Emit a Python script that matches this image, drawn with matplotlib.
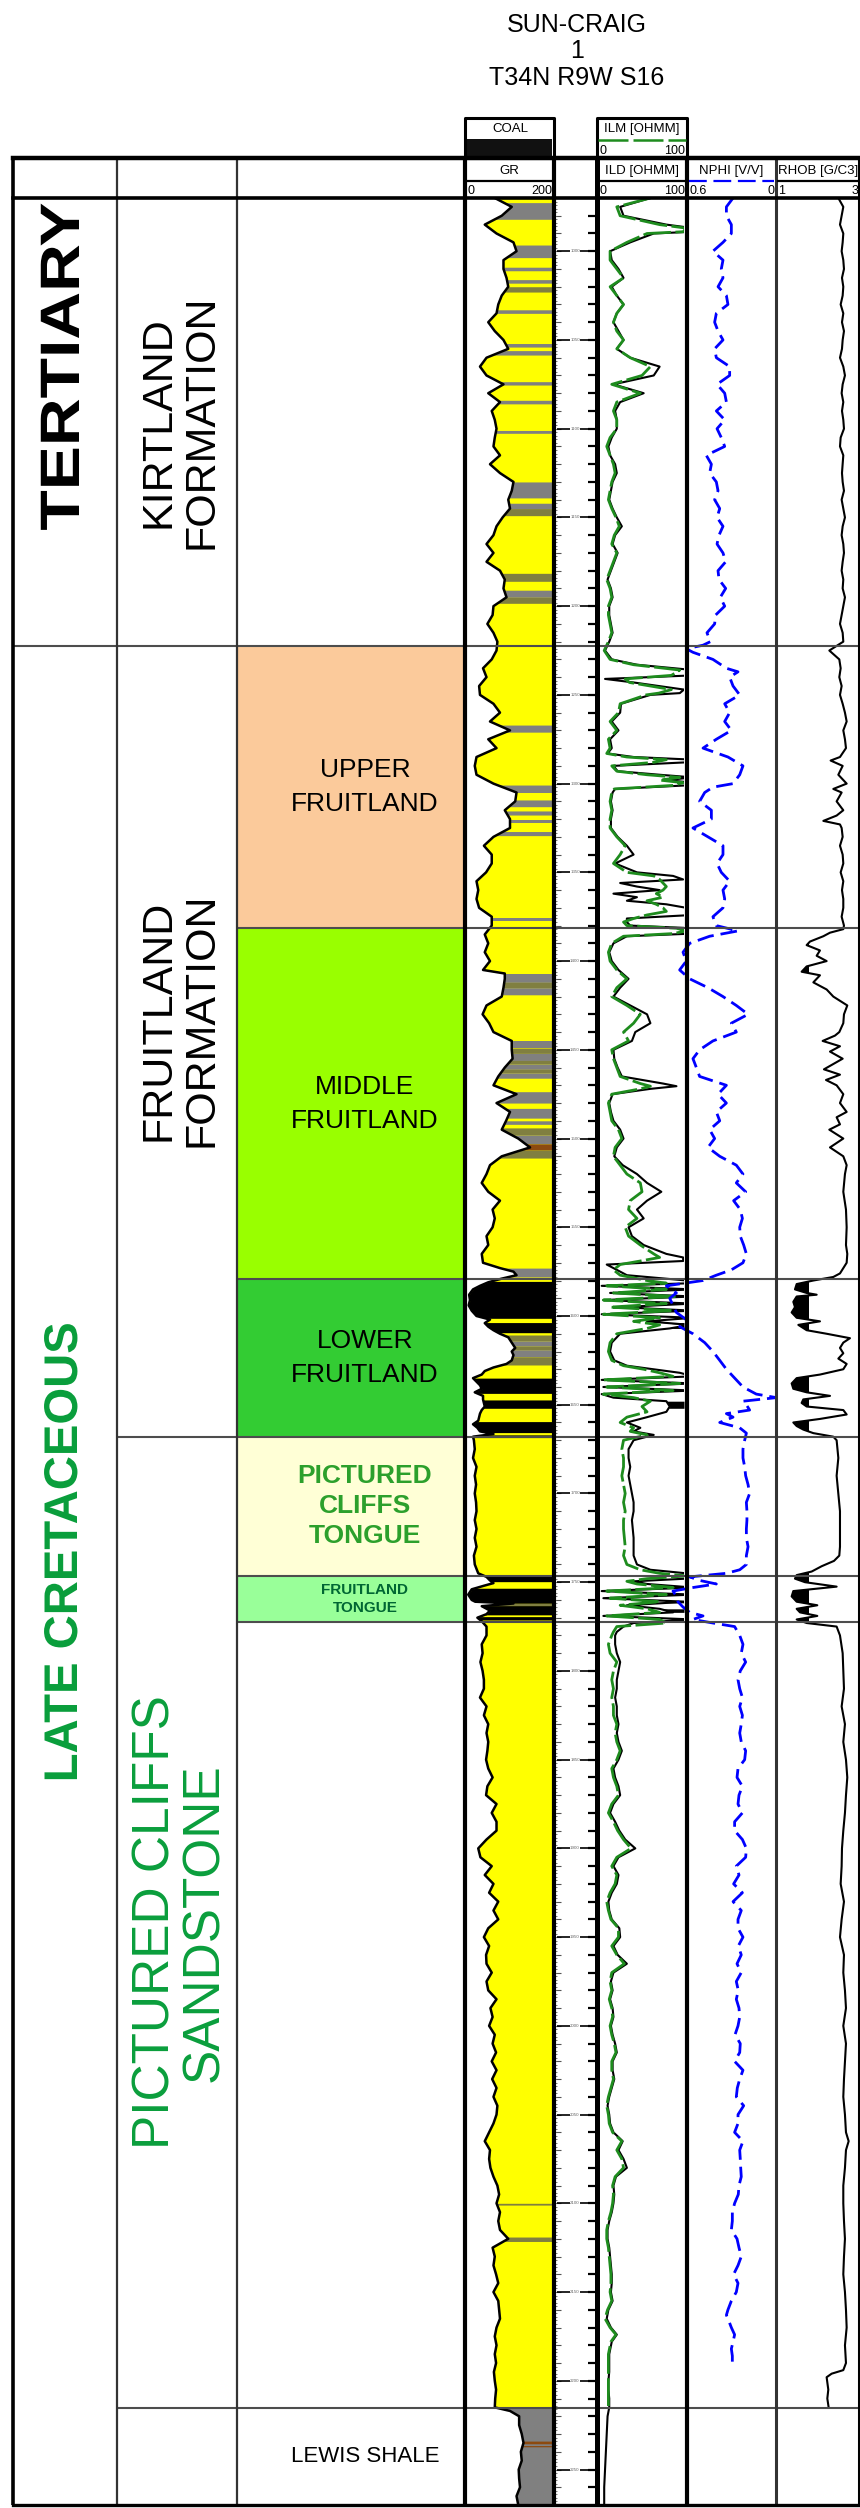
import matplotlib.pyplot as plt
import numpy as np
from matplotlib.patheffects import AbstractPathEffect
from matplotlib.transforms import Affine2D

plt.rcParams['font.family'] = ['Liberation Sans', 'DejaVu Sans']

WELL = ['SUN-CRAIG', '1', 'T34N R9W S16']

# log window in feet
TOP_DEPTH, BASE_DEPTH = 970, 2270

ERA_NAMES = ['TERTIARY', 'LATE CRETACEOUS']
ERA_TOPS = [970, 1222.3]
FM_NAMES = ['KIRTLAND\nFORMATION', 'FRUITLAND\nFORMATION', 'PICTURED CLIFFS\nSANDSTONE', '']
FM_TOPS = [970, 1222.3, 1668.0, 2215.5]
UNIT_NAMES = ['', 'UPPER\nFRUITLAND', 'MIDDLE\nFRUITLAND', 'LOWER\nFRUITLAND',
              'PICTURED\nCLIFFS\nTONGUE', 'FRUITLAND\nTONGUE', '', 'LEWIS SHALE']
UNIT_TOPS = [970, 1222.3, 1381.5, 1579.3, 1668.0, 1746.3, 1772.6, 2215.5]
UNIT_COLORS = ['white', '#FBCA9B', '#99FF00', '#33CC33', '#FFFFD6', '#99FF99', 'white', 'white']

# gamma ray (depth ft, GAPI)
GR_LOG = [
    (970, 65), (975, 104), (980, 81), (985, 42), (990, 69), (995, 108), (1000, 115), (1005, 85),
    (1010, 85), (1015, 92), (1020, 96), (1025, 81), (1030, 73), (1035, 69), (1040, 50), (1045, 65),
    (1050, 85), (1055, 96), (1060, 46), (1065, 31), (1070, 46), (1075, 85), (1080, 50), (1085, 77),
    (1090, 58), (1095, 65), (1100, 69), (1105, 65), (1110, 62), (1115, 77), (1120, 54), (1125, 77),
    (1130, 108), (1135, 104), (1140, 96), (1145, 100), (1150, 83), (1155, 69), (1160, 62), (1165, 46),
    (1170, 62), (1175, 46), (1180, 77), (1185, 88), (1190, 85), (1195, 92), (1200, 62), (1205, 60),
    (1210, 48), (1215, 62), (1220, 71), (1225, 69), (1230, 58), (1235, 38), (1240, 46), (1245, 29),
    (1250, 31), (1255, 62), (1260, 77), (1265, 54), (1270, 100), (1275, 50),
    (1280, 69), (1285, 23), (1290, 19), (1295, 23), (1300, 62), (1305, 115), (1310, 112), (1315, 88),
    (1320, 100), (1325, 100), (1330, 62), (1335, 40), (1340, 58), (1345, 58), (1350, 45), (1355, 23),
    (1360, 27), (1365, 23), (1370, 29), (1375, 58), (1380, 58), (1385, 42), (1390, 50), (1395, 42),
    (1400, 54), (1405, 38), (1407, 88), (1410, 88), (1415, 85), (1420, 81),
    (1425, 46), (1430, 37), (1435, 52), (1440, 62), (1445, 104), (1450, 104), (1455, 106), (1460, 88),
    (1465, 73), (1470, 62), (1475, 115), (1480, 69), (1485, 100), (1490, 91), (1495, 81), (1500, 119),
    (1505, 146), (1510, 81), (1515, 54), (1520, 46), (1525, 35), (1530, 50), (1535, 77), (1540, 60),
    (1545, 65), (1550, 60), (1555, 46), (1560, 50),
    (1565, 35), (1570, 38), (1573, 77), (1575, 108), (1577, 115), (1579, 80), (1581, 50), (1583, 31),
    (1585, 15), (1588, 6), (1591, 8), (1594, 5), (1597, 12), (1600, 23), (1602, 54), (1604, 42),
    (1606, 50), (1608, 62), (1610, 77), (1612, 96), (1615, 104), (1618, 112), (1620, 104), (1622, 108),
    (1625, 104), (1627, 92), (1629, 62), (1631, 42), (1633, 35), (1635, 15), (1637, 23), (1639, 31),
    (1641, 35), (1643, 19), (1645, 38), (1647, 38), (1649, 40), (1651, 42), (1653, 35), (1655, 31),
    (1657, 29), (1659, 27), (1661, 15), (1663, 25), (1665, 31), (1666.5, 62), (1668, 15), (1670, 17),
    (1675, 19), (1680, 15), (1685, 23), (1690, 19), (1695, 22), (1700, 19), (1705, 22), (1710, 23),
    (1715, 19), (1720, 23), (1725, 19), (1730, 23), (1735, 17), (1740, 19), (1745, 27), (1747, 46),
    (1749, 54), (1750.5, 62), (1752, 40), (1754, 12), (1757, 4), (1760, 12), (1761, 20), (1762, 108),
    (1763.5, 35), (1766, 54), (1768, 46), (1770, 25), (1772, 35), (1775, 46),
    (1780, 46), (1785, 35), (1790, 37), (1795, 32), (1800, 37), (1805, 40), (1810, 40), (1815, 31),
    (1820, 46), (1825, 40), (1830, 50), (1835, 46), (1840, 50), (1845, 48), (1850, 45), (1855, 50),
    (1860, 60), (1865, 48), (1870, 45),
    (1875, 69), (1880, 58), (1885, 69), (1890, 69), (1895, 46), (1900, 27), (1905, 32), (1910, 58),
    (1915, 42), (1920, 62), (1925, 52), (1930, 73), (1935, 62), (1940, 73), (1945, 50), (1950, 40),
    (1955, 52), (1960, 45), (1965, 46), (1970, 58), (1975, 46), (1980, 50), (1985, 69), (1990, 55),
    (1995, 60), (2000, 52), (2005, 65), (2010, 60), (2015, 68),
    (2020, 58), (2025, 69), (2030, 59), (2035, 69), (2040, 62), (2045, 71), (2050, 69), (2055, 62),
    (2060, 52), (2065, 42), (2070, 54), (2075, 52), (2080, 55), (2085, 62), (2090, 71), (2095, 75),
    (2100, 69), (2105, 77), (2110, 73), (2115, 77), (2120, 96), (2125, 60), (2130, 65), (2135, 62),
    (2140, 68), (2145, 73), (2150, 62), (2155, 73),
    (2160, 75), (2165, 77), (2170, 69), (2175, 65), (2180, 69), (2185, 65), (2190, 68), (2195, 63),
    (2200, 65), (2205, 68), (2210, 66), (2215, 65), (2217, 100), (2220, 121), (2225, 121), (2230, 127),
    (2235, 131), (2240, 125), (2245, 127), (2250, 120), (2255, 121), (2260, 123), (2265, 115), (2270, 119),
]

# lithology beds behind the GR curve (top ft, base ft, kind); sand elsewhere
LITH_BEDS = [
    (972.6, 982, 'shale'), (996.5, 1003.6, 'shale'), (1009, 1011, 'shale'), (1016, 1018, 'shale'),
    (1020, 1023, 'shaly'), (1033, 1035, 'shale'), (1052, 1054, 'shale'), (1056, 1058.5, 'shale'),
    (1073.5, 1075.4, 'shale'), (1084, 1086, 'shale'), (1101, 1102.6, 'shale'),
    (1130, 1139, 'shale'), (1142, 1145, 'shale'), (1145, 1149, 'shaly'), (1181.5, 1186, 'shaly'),
    (1191, 1195, 'shale'), (1195, 1198.4, 'shaly'), (1267, 1271, 'shale'),
    (1300.8, 1305, 'shale'), (1309.2, 1313, 'shale'), (1315.4, 1317.7, 'shale'), (1320.5, 1322.4, 'shale'),
    (1327, 1329.3, 'shale'), (1375.5, 1377.4, 'shale'), (1407, 1412, 'shale'), (1412, 1415, 'shaly'),
    (1415, 1419, 'shale'),
    (1445, 1449, 'shale'), (1449, 1452, 'shaly'), (1452, 1456, 'shale'), (1456, 1458, 'shaly'),
    (1458, 1461, 'shale'), (1461, 1463, 'shaly'), (1463, 1466, 'shale'), (1473.6, 1480, 'shale'),
    (1483, 1488.5, 'shale'), (1490, 1492, 'shale'), (1494, 1498, 'shaly'), (1498, 1503, 'shale'),
    (1503, 1506.5, 'carb'), (1506.5, 1511, 'shaly'),
    (1573, 1578, 'shale'), (1580.5, 1601.3, 'coal'), (1603.7, 1609.4, 'coal'), (1610.7, 1614, 'shaly'),
    (1614, 1617, 'shale'), (1617, 1619, 'shaly'), (1619, 1623, 'shale'), (1623, 1627.6, 'shaly'),
    (1635, 1643.6, 'coal'), (1647.3, 1652, 'coal'), (1659.5, 1665.7, 'coal'), (1667, 1668.5, 'coal'),
    (1746.5, 1749.7, 'coal'), (1753.4, 1761.9, 'coal'), (1761.9, 1763.2, 'shaly'), (1763.2, 1768.4, 'coal'),
    (1769.4, 1771.3, 'coal'),
    (2100, 2101, 'shaly'), (2119, 2121.5, 'shaly'),
    (2215.5, 2270, 'shale'), (2234, 2235.5, 'carb'), (2236.5, 2237.2, 'carb'),
]

# induction logs (depth ft, ILM ohmm, ILD ohmm); ILM not run below the sandstone
RES_LOG = [
    (970, 60, 60), (975, 20, 24), (980, 24, 28), (985, 71, 79), (987, 103, 111), (989, 99, 111),
    (990, 56, 64), (995, 32, 36), (1000, 12, 12), (1005, 12, 14), (1010, 20, 22), (1015, 28, 28),
    (1020, 12, 14), (1025, 20, 20), (1030, 28, 28), (1035, 20, 20), (1040, 16, 16), (1045, 20, 22),
    (1050, 28, 28), (1055, 20, 20), (1060, 36, 36), (1065, 60, 71), (1070, 50, 64), (1075, 14, 16),
    (1080, 48, 52), (1085, 20, 24), (1090, 16, 18), (1095, 20, 20), (1100, 20, 20), (1105, 12, 14),
    (1110, 8, 10), (1115, 12, 12), (1120, 16, 18), (1125, 18, 20),
    (1130, 14, 15), (1135, 12, 13), (1140, 10, 11), (1145, 14, 15), (1150, 19, 20), (1155, 23, 26),
    (1160, 17, 18), (1165, 14, 15), (1170, 20, 21), (1175, 16, 17), (1180, 12, 13), (1185, 8, 9),
    (1190, 12, 13), (1195, 14, 15), (1200, 10, 11), (1205, 10, 11), (1210, 12, 13), (1215, 14, 15),
    (1220, 10, 11), (1225, 5, 6), (1230, 12, 14), (1233, 40, 44), (1236, 95, 111), (1239, 85, 111),
    (1241, 30, 6), (1243, 35, 40), (1245, 60, 70), (1247, 85, 100), (1249, 70, 95), (1250, 55, 60),
    (1255, 24, 25), (1260, 22, 24), (1265, 12, 14), (1270, 20, 22), (1275, 10, 12),
    (1280, 12, 14), (1283, 8, 9), (1285, 32, 40), (1286.5, 79, 111), (1288, 64, 103), (1290, 14, 16),
    (1293, 20, 21), (1295, 56, 71), (1296.5, 95, 111), (1298, 71, 79), (1299.5, 99, 111), (1301, 87, 103),
    (1303, 17, 18), (1305, 14, 15), (1310, 12, 13), (1315, 14, 15), (1320, 12, 13), (1325, 12, 13),
    (1330, 20, 21), (1335, 30, 32), (1340, 24, 40), (1345, 16, 18), (1350, 32, 44), (1352, 64, 87),
    (1354, 71, 99), (1356, 75, 24), (1358, 79, 44), (1360, 75, 71), (1362, 67, 16), (1364, 75, 44),
    (1366, 56, 32), (1368, 67, 79), (1370, 75, 103), (1372, 79, 111), (1374, 56, 111), (1376, 40, 32),
    (1378, 28, 32), (1380, 32, 36), (1381.5, 91, 111), (1383, 103, 111), (1384.5, 87, 111), (1386, 28, 32),
    (1390, 14, 16), (1395, 10, 11), (1400, 12, 14), (1405, 20, 22), (1410, 32, 34), (1415, 20, 24),
    (1420, 14, 16),
    (1425, 32, 36), (1430, 48, 56), (1435, 40, 60), (1440, 28, 42), (1445, 34, 38), (1450, 14, 16),
    (1455, 16, 17), (1460, 20, 21), (1465, 24, 26), (1469, 48, 75), (1470.5, 60, 91), (1472, 48, 60),
    (1475, 14, 15), (1480, 10, 11), (1485, 12, 13), (1490, 14, 16), (1495, 22, 24), (1500, 26, 28),
    (1505, 18, 20), (1510, 16, 17), (1515, 24, 27), (1520, 32, 44), (1525, 48, 56), (1530, 50, 73),
    (1535, 36, 56), (1540, 34, 44), (1545, 44, 52), (1550, 30, 34), (1555, 34, 38), (1560, 48, 52),
    (1565, 64, 79), (1567, 71, 99), (1569, 48, 99), (1571, 24, 8), (1574, 16, 20), (1577, 24, 32),
    (1580, 56, 103), (1581.5, 79, 111), (1583, 8, 2), (1585, 79, 111), (1587, 16, 12), (1589, 91, 111),
    (1591, 4, 4), (1593, 79, 111), (1595, 12, 24), (1597, 87, 111), (1599, 4, 2), (1601, 71, 111),
    (1603, 40, 56), (1605, 71, 107), (1607, 56, 83), (1610, 20, 24), (1615, 12, 14), (1620, 10, 12),
    (1625, 14, 17), (1628, 28, 32), (1630, 52, 64), (1632, 71, 95), (1634, 87, 111), (1636, 4, 2),
    (1638, 95, 111), (1640, 8, 4), (1642, 87, 111), (1644, 4, 2), (1646, 40, 16), (1648, 60, 79),
    (1651, 50, 83), (1654, 56, 79), (1657, 32, 56), (1660, 24, 32), (1663, 40, 48), (1665, 36, 40),
    (1667, 56, 64), (1670, 28, 40), (1675, 26, 34), (1680, 28, 34), (1685, 28, 36), (1690, 26, 34),
    (1695, 28, 36), (1700, 30, 38), (1705, 28, 40), (1710, 30, 40), (1715, 28, 38), (1720, 28, 39),
    (1725, 29, 40), (1730, 30, 40), (1735, 28, 40), (1740, 32, 44), (1743, 48, 60), (1745, 71, 103),
    (1746.5, 103, 111), (1748, 56, 103), (1749.5, 32, 40), (1751, 44, 56), (1753, 87, 111), (1755, 8, 2),
    (1757, 79, 111), (1759, 12, 4), (1761, 71, 103), (1763, 24, 32), (1765, 56, 71), (1767, 71, 87),
    (1769, 8, 4), (1771, 71, 111), (1773, 79, 40), (1775, 20, 28), (1778, 16, 20), (1780, 14, 18),
    (1785, 10, 18), (1790, 12, 20), (1795, 20, 24), (1800, 16, 22), (1805, 14, 20), (1810, 16, 20),
    (1815, 14, 18), (1820, 16, 20), (1825, 16, 20), (1830, 20, 22), (1835, 18, 20), (1840, 20, 22),
    (1845, 24, 26), (1850, 20, 22), (1855, 14, 16), (1860, 16, 18), (1865, 20, 22), (1870, 22, 24),
    (1875, 14, 16), (1880, 10, 12), (1885, 16, 18), (1890, 21, 23), (1895, 28, 30), (1900, 37, 42),
    (1905, 20, 22), (1910, 14, 16), (1915, 20, 22), (1920, 18, 20), (1925, 12, 14), (1930, 8, 10),
    (1935, 10, 11), (1940, 13, 14), (1945, 22, 23), (1950, 22, 24), (1955, 14, 16), (1960, 20, 21),
    (1965, 29, 32), (1970, 14, 16), (1975, 12, 13), (1980, 14, 15), (1985, 11, 12), (1990, 14, 15),
    (1995, 15, 16), (2000, 12, 13), (2005, 14, 15), (2010, 17, 18), (2015, 19, 20),
    (2020, 14, 15), (2025, 14, 15), (2030, 16, 17), (2035, 13, 14), (2040, 10, 11), (2045, 8, 9),
    (2050, 10, 11), (2055, 11, 12), (2060, 15, 16), (2065, 26, 27), (2070, 20, 22), (2075, 26, 28),
    (2080, 28, 32), (2085, 18, 19), (2090, 15, 16), (2095, 16, 17), (2100, 15, 16), (2105, 13, 14),
    (2110, 10, 11), (2115, 8, 9), (2120, 8, 9), (2125, 10, 11), (2130, 11, 12), (2135, 12, 13),
    (2140, 13, 14), (2145, 13, 14), (2150, 12, 13), (2155, 14, 15),
    (2160, 9, 10), (2165, 6, 8), (2170, 12, 13), (2174, 19, 20), (2178, 13, 14), (2185, 10, 11),
    (2190, 10, 11), (2195, 10, 11), (2200, 10, 10), (2205, 10, 10), (2210, 10, 11), (2215, 10, 11),
    (2220, None, 9), (2230, None, 8), (2240, None, 7), (2250, None, 6), (2260, None, 5), (2270, None, 5),
]

# neutron porosity (depth ft, v/v)
NPHI_LOG = [
    (970, 0.282), (975, 0.329), (980, 0.329), (985, 0.294), (990, 0.294), (995, 0.353), (1000, 0.424),
    (1005, 0.353), (1010, 0.365), (1015, 0.353), (1020, 0.388), (1025, 0.329), (1030, 0.318), (1035, 0.400),
    (1040, 0.412), (1045, 0.388), (1050, 0.353), (1055, 0.412), (1060, 0.400), (1065, 0.306), (1070, 0.306),
    (1075, 0.395), (1080, 0.341), (1085, 0.329), (1090, 0.400), (1095, 0.341), (1100, 0.395), (1105, 0.365),
    (1110, 0.341), (1115, 0.471), (1120, 0.435), (1125, 0.447),
    (1130, 0.400), (1135, 0.388), (1140, 0.412), (1145, 0.376), (1150, 0.395), (1155, 0.353), (1160, 0.381),
    (1165, 0.395), (1170, 0.353), (1175, 0.334), (1180, 0.388), (1185, 0.381), (1190, 0.334), (1195, 0.372),
    (1200, 0.341), (1205, 0.405), (1210, 0.412), (1215, 0.466), (1220, 0.442), (1222, 0.494), (1224, 0.612),
    (1226, 0.565), (1230, 0.424), (1235, 0.329), (1237, 0.247), (1240, 0.306), (1245, 0.282), (1250, 0.235),
    (1255, 0.341), (1260, 0.306), (1265, 0.341), (1270, 0.294), (1275, 0.400),
    (1280, 0.494), (1285, 0.318), (1290, 0.212), (1295, 0.235), (1300, 0.282), (1302, 0.424), (1305, 0.482),
    (1310, 0.518), (1315, 0.435), (1320, 0.435), (1325, 0.565), (1330, 0.459), (1335, 0.353), (1340, 0.353),
    (1345, 0.395), (1350, 0.365), (1355, 0.306), (1360, 0.353), (1365, 0.341), (1370, 0.353), (1375, 0.424),
    (1380, 0.400), (1383, 0.247), (1386, 0.447), (1390, 0.588), (1395, 0.635), (1400, 0.612), (1405, 0.659),
    (1410, 0.588), (1415, 0.459), (1420, 0.353),
    (1425, 0.259), (1430, 0.176), (1435, 0.294), (1440, 0.259), (1445, 0.424), (1450, 0.518), (1455, 0.565),
    (1460, 0.541), (1465, 0.518), (1470, 0.329), (1475, 0.388), (1480, 0.329), (1485, 0.400), (1490, 0.376),
    (1495, 0.447), (1500, 0.412), (1505, 0.459), (1510, 0.376), (1515, 0.259), (1520, 0.212), (1525, 0.259),
    (1530, 0.193), (1535, 0.278), (1540, 0.231), (1545, 0.216), (1550, 0.235), (1555, 0.231), (1560, 0.207),
    (1565, 0.188), (1570, 0.212), (1574, 0.294), (1577, 0.400), (1580, 0.494), (1583, 0.753), (1587, 0.682),
    (1590, 0.729), (1594, 0.706), (1598, 0.682), (1602, 0.612), (1606, 0.659), (1610, 0.565), (1615, 0.482),
    (1620, 0.424), (1625, 0.376), (1630, 0.329), (1635, 0.271), (1640, 0.212), (1644, 0.118), (1646, -0.024),
    (1648, 0.212), (1650, 0.188), (1653, 0.165), (1655, 0.329), (1657, 0.282), (1660, 0.376), (1663, 0.235),
    (1666, 0.188), (1670, 0.200), (1675, 0.212), (1680, 0.212), (1685, 0.200), (1690, 0.193), (1695, 0.176),
    (1700, 0.165), (1705, 0.188), (1710, 0.184), (1715, 0.184), (1720, 0.188), (1725, 0.188), (1730, 0.176),
    (1735, 0.188), (1740, 0.188), (1743, 0.235), (1745, 0.329), (1747, 0.588), (1749, 0.518), (1751, 0.400),
    (1753, 0.565), (1755, 0.706), (1758, 0.682), (1761, 0.671), (1764, 0.635), (1767, 0.588), (1769, 0.494),
    (1771, 0.565), (1773, 0.424), (1775, 0.271), (1780, 0.235), (1785, 0.212), (1790, 0.224), (1795, 0.193),
    (1800, 0.231), (1805, 0.247), (1810, 0.235), (1815, 0.216), (1820, 0.235), (1825, 0.216), (1830, 0.224),
    (1835, 0.235), (1840, 0.224), (1845, 0.193), (1850, 0.200), (1855, 0.247), (1860, 0.254), (1865, 0.216),
    (1870, 0.240), (1875, 0.247), (1880, 0.216), (1885, 0.271), (1890, 0.271), (1895, 0.216), (1900, 0.188),
    (1905, 0.193), (1910, 0.259), (1915, 0.240), (1920, 0.278), (1925, 0.216), (1930, 0.282), (1935, 0.224),
    (1940, 0.247), (1945, 0.247), (1950, 0.212), (1955, 0.245), (1960, 0.224), (1965, 0.254), (1970, 0.224),
    (1975, 0.259), (1980, 0.245), (1985, 0.259), (1990, 0.240), (1995, 0.235), (2000, 0.247), (2005, 0.268),
    (2010, 0.231), (2015, 0.235), (2020, 0.271), (2025, 0.212), (2030, 0.235), (2035, 0.252), (2040, 0.259),
    (2045, 0.207), (2050, 0.247), (2055, 0.247), (2060, 0.271), (2065, 0.212), (2070, 0.235), (2075, 0.231),
    (2080, 0.228), (2085, 0.224), (2090, 0.240), (2095, 0.245), (2100, 0.271), (2105, 0.287), (2110, 0.287),
    (2115, 0.294), (2120, 0.254), (2125, 0.240), (2130, 0.224), (2135, 0.247), (2140, 0.278), (2145, 0.247),
    (2150, 0.259), (2155, 0.294), (2160, 0.318), (2163, 0.329), (2165, 0.318), (2170, 0.294), (2174, 0.271),
    (2178, 0.282), (2182, 0.294), (2186, 0.287), (2191, 0.287),
]

# bulk density (depth ft, g/cc)
RHOB_LOG = [
    (970, 2.490), (975, 2.607), (980, 2.568), (985, 2.529), (990, 2.607), (995, 2.592), (1000, 2.568),
    (1005, 2.607), (1010, 2.623), (1015, 2.576), (1020, 2.607), (1025, 2.592), (1030, 2.545), (1035, 2.607),
    (1040, 2.576), (1045, 2.623), (1050, 2.592), (1055, 2.576), (1060, 2.529), (1065, 2.607), (1070, 2.646),
    (1075, 2.592), (1080, 2.568), (1085, 2.607), (1090, 2.576), (1095, 2.607), (1100, 2.623), (1105, 2.545),
    (1110, 2.529), (1115, 2.607), (1120, 2.592), (1125, 2.576), (1130, 2.592), (1135, 2.623), (1140, 2.568),
    (1145, 2.607), (1150, 2.646), (1155, 2.592), (1160, 2.568), (1165, 2.607), (1170, 2.623), (1175, 2.592),
    (1180, 2.568), (1185, 2.607), (1190, 2.592), (1195, 2.646), (1200, 2.607), (1205, 2.568), (1210, 2.529),
    (1215, 2.592), (1220, 2.607), (1223, 2.411), (1225, 2.278), (1227, 2.372), (1230, 2.513), (1235, 2.545),
    (1240, 2.513), (1245, 2.568), (1250, 2.529), (1255, 2.592), (1260, 2.646), (1265, 2.686), (1270, 2.607),
    (1275, 2.646), (1280, 2.670), (1285, 2.529), (1287, 2.309), (1290, 2.592), (1295, 2.490), (1300, 2.686),
    (1303, 2.372), (1305, 2.568), (1310, 2.450), (1315, 2.607), (1318, 2.450), (1321, 2.137), (1323, 2.529),
    (1325, 2.568), (1330, 2.592), (1335, 2.529), (1340, 2.592), (1345, 2.607), (1350, 2.545), (1355, 2.607),
    (1360, 2.576), (1365, 2.607), (1370, 2.607), (1375, 2.568), (1380, 2.623), (1382, 2.607), (1384, 2.294),
    (1386, 2.137), (1389, 1.823), (1391, 1.745), (1394, 2.058), (1397, 1.980), (1400, 2.215), (1403, 1.745),
    (1406, 1.627), (1408, 2.058), (1412, 1.902), (1416, 2.215), (1420, 2.372), (1425, 2.701), (1430, 2.623),
    (1435, 2.607), (1440, 2.513), (1442, 2.411), (1445, 2.121), (1448, 2.529), (1451, 2.294), (1455, 2.592),
    (1458, 2.372), (1461, 2.152), (1464, 2.529), (1467, 2.200), (1470, 2.450), (1475, 2.607), (1480, 2.529),
    (1485, 2.686), (1488, 2.450), (1492, 2.529), (1495, 2.278), (1500, 2.607), (1505, 2.294), (1510, 2.607),
    (1515, 2.686), (1520, 2.646), (1530, 2.607), (1540, 2.670), (1550, 2.686), (1560, 2.670),
    (1565, 2.701), (1570, 2.686), (1573, 2.607), (1576, 2.529), (1578, 2.372), (1580, 1.902), (1582, 1.510),
    (1585, 1.470), (1587, 1.745), (1588, 1.980), (1589, 1.510), (1592, 1.431), (1595, 1.470), (1598, 1.392),
    (1601, 1.510), (1603, 2.058), (1605, 1.549), (1608, 1.745), (1610, 2.215), (1612.5, 2.764), (1615, 2.607),
    (1618, 2.529), (1621, 2.607), (1624, 2.490), (1627, 2.686), (1630, 2.607), (1633, 2.058), (1635, 1.510),
    (1638, 1.392), (1641, 1.431), (1643, 1.745), (1645, 2.294), (1647, 1.666), (1649, 1.627), (1651, 1.745),
    (1653, 2.607), (1655.5, 2.686), (1658, 2.058), (1660, 1.431), (1662, 1.510), (1664, 1.666), (1666, 1.902),
    (1668, 2.372), (1670, 2.450), (1680, 2.490), (1690, 2.450), (1700, 2.490), (1710, 2.529), (1720, 2.529),
    (1730, 2.529), (1735, 2.513), (1738, 2.388), (1741, 2.098), (1744, 1.862), (1746, 1.510), (1748, 1.470),
    (1750, 1.706), (1752.5, 2.450), (1755, 1.431), (1758, 1.392), (1761, 1.510), (1763, 1.996), (1765, 1.510),
    (1767, 1.588), (1769, 1.996), (1771, 1.510), (1773, 1.745), (1775, 2.450), (1780, 2.529), (1790, 2.592),
    (1800, 2.607), (1810, 2.623), (1820, 2.568), (1830, 2.646), (1840, 2.607), (1850, 2.670), (1860, 2.701),
    (1870, 2.670), (1880, 2.646), (1890, 2.607), (1900, 2.576), (1910, 2.568), (1920, 2.545), (1930, 2.623),
    (1940, 2.568), (1950, 2.529), (1960, 2.623), (1970, 2.607), (1980, 2.646), (1990, 2.670), (2000, 2.607),
    (2010, 2.670), (2020, 2.646), (2030, 2.623), (2040, 2.607), (2050, 2.646), (2060, 2.670), (2065, 2.733),
    (2070, 2.670), (2080, 2.646), (2090, 2.607), (2100, 2.607), (2110, 2.623), (2120, 2.646), (2130, 2.623),
    (2140, 2.607), (2150, 2.646), (2160, 2.670), (2170, 2.686), (2180, 2.646), (2190, 2.670), (2194, 2.607),
    (2196, 2.333), (2198, 2.215), (2205, 2.254), (2210, 2.231), (2215, 2.262),
]

LITH_COLORS = {'sand': '#FFFF00', 'shale': '#808080', 'shaly': '#807F40',
               'carb': '#8C4A10', 'coal': '#000000'}
COAL_DENSITY = 1.8

W, H = 860, 2508
Y_TOP, Y_BASE = 198, 2505
GREEN = '#0A9E3C'


class Stretch(AbstractPathEffect):
    """Scale glyph outlines about an anchor given in data coordinates."""

    def __init__(self, ax, xy, sx=1.0, sy=1.0):
        super().__init__()
        self.ax, self.xy, self.sx, self.sy = ax, xy, sx, sy

    def draw_path(self, renderer, gc, tpath, affine, rgbFace=None):
        cx, cy = self.ax.transData.transform(self.xy)
        stretch = Affine2D().translate(-cx, -cy).scale(self.sx, self.sy).translate(cx, cy)
        renderer.draw_path(gc, tpath, affine + stretch, rgbFace)


fig = plt.figure(figsize=(W / 100, H / 100), dpi=100)


def px_axes(x0, x1, y0, y1, z):
    ax = fig.add_axes([x0 / W, 1 - y1 / H, (x1 - x0) / W, (y1 - y0) / H], zorder=z)
    ax.set_axis_off()
    return ax


def depth_axes(x0, x1, lo, hi, z):
    ax = px_axes(x0, x1, Y_TOP, Y_BASE, z)
    ax.set_xlim(lo, hi)
    ax.set_ylim(BASE_DEPTH, TOP_DEPTH)
    return ax


body = depth_axes(0, W, 0, W, 0)
ax_gr = depth_axes(466.5, 553.5, 0, 200, 2)
ax_dep = depth_axes(554, 597, 554, 597, 2)
ax_res = depth_axes(600, 684, 0, 100, 2)
ax_nphi = depth_axes(688, 773, 0.6, 0, 3)
ax_rhob = depth_axes(775, 860, 1, 3, 2)
over = depth_axes(0, W, 0, W, 5)
page = px_axes(0, W, 0, H, 6)
page.set_xlim(0, W)
page.set_ylim(H, 0)


def bases(tops):
    return tops[1:] + [BASE_DEPTH]


# ---- stratigraphic columns
for top, base, color in zip(UNIT_TOPS, bases(UNIT_TOPS), UNIT_COLORS):
    body.fill_between([237, 465], top, base, color=color, lw=0)

unit_style = {
    'PICTURED\nCLIFFS\nTONGUE': dict(size=19, weight='bold', color='#2CA02C', linespacing=1.3),
    'FRUITLAND\nTONGUE': dict(size=11, weight='bold', color='#006633', linespacing=1.3),
    'LEWIS SHALE': dict(size=16, color='black'),
}
for name, top, base in zip(UNIT_NAMES, UNIT_TOPS, bases(UNIT_TOPS)):
    if name:
        style = unit_style.get(name, dict(size=19, color='black', linespacing=1.55))
        body.text(365, (top + base) / 2, name, ha='center', va='center',
                  multialignment='center', **style)

fm_style = [dict(size=31, color='black', linespacing=1.1),
            dict(size=31, color='black', linespacing=1.1),
            dict(size=37, color=GREEN, linespacing=1.0), {}]
fm_shift = [0, -12, 0, 0]
for name, top, base, style, dy in zip(FM_NAMES, FM_TOPS, bases(FM_TOPS), fm_style, fm_shift):
    if name:
        body.text(180, (top + base) / 2 + dy, name, rotation=90, ha='center', va='center',
                  multialignment='center', **style)

era_style = [dict(size=40, color='black'), dict(size=34, color=GREEN)]
era_shift = [-31, -13]
era_stretch = [1.19, 1.0]
for name, top, base, style, dy, sy in zip(ERA_NAMES, ERA_TOPS, bases(ERA_TOPS),
                                          era_style, era_shift, era_stretch):
    xy = (65, (top + base) / 2 + dy)
    body.text(*xy, name, rotation=90, ha='center', va='center', weight='bold',
              path_effects=[Stretch(body, xy, 1.0, sy)], **style)

# ---- gamma ray with lithology fill
gr_d, gr_v = np.array(GR_LOG, dtype=float).T
ax_gr.fill_betweenx(gr_d, gr_v, 200, color=LITH_COLORS['sand'], lw=0)
for top, base, kind in LITH_BEDS:
    d = np.concatenate([[top], gr_d[(gr_d > top) & (gr_d < base)], [base]])
    ax_gr.fill_betweenx(d, np.interp(d, gr_d, gr_v), 200, color=LITH_COLORS[kind], lw=0)
ax_gr.plot(gr_v, gr_d, color='black', lw=1.8)

# ---- resistivity
res = np.array([(d, np.nan if m is None else m, i) for d, m, i in RES_LOG])
res_d, ilm, ild = res.T
for top, base, kind in LITH_BEDS:
    if kind == 'coal':
        d = np.concatenate([[top], res_d[(res_d > top) & (res_d < base)], [base]])
        r = np.interp(d, res_d, ild)
        ax_res.fill_betweenx(d, np.minimum(r, 100), 100, where=r > 60,
                             interpolate=True, color='black', lw=0)
ax_res.plot(ild, res_d, color='black', lw=1.5)
ax_res.plot(ilm, res_d, color='#1E8C1E', lw=2.0, ls=(0, (10, 1.6)))

# ---- neutron porosity (allowed to spill over the track edges)
nphi_d, nphi_v = np.array(NPHI_LOG).T
ax_nphi.plot(nphi_v, nphi_d, color='#0000FF', lw=2.0, ls=(0, (6, 2.5)), clip_on=False)

# ---- bulk density with coal shading
rho_d, rho_v = np.array(RHOB_LOG).T
ax_rhob.fill_betweenx(rho_d, rho_v, COAL_DENSITY, where=rho_v < COAL_DENSITY,
                      interpolate=True, color='black', lw=0)
ax_rhob.plot(rho_v, rho_d, color='black', lw=1.5)

# ---- depth track
ax_dep.hlines(np.arange(972, BASE_DEPTH, 2), 554, 557, color='#444444', lw=0.5)
ticks = np.arange(980, BASE_DEPTH, 10)
ax_dep.hlines(ticks, 588, 597, color='black', lw=1.6)
ax_dep.hlines(ticks, 556, 561, color='#555555', lw=0.8)
for d in np.arange(1000, BASE_DEPTH, 50):
    ax_dep.hlines(d, 557, 597, color='black', lw=1.2)
    ax_dep.text(575, d, str(d), ha='center', va='center', size=3.2, color='#666666',
                bbox=dict(facecolor='white', edgecolor='none', pad=0.4))

# ---- zone boundaries
for d in sorted(set(UNIT_TOPS[1:] + FM_TOPS[1:] + ERA_TOPS[1:])):
    x0 = 13 if d in ERA_TOPS else 117 if d in FM_TOPS else 237
    over.plot([x0, 860], [d, d], color='#4D4D4D', lw=1.5, solid_capstyle='butt')

# ---- frame
for x, lw, c in [(13, 2.6, 'black'), (117, 1.6, '#333333'), (237, 1.6, '#333333'),
                 (465, 3.0, 'black'), (554, 3.0, 'black'), (597, 3.6, 'black'),
                 (687, 3.0, 'black'), (776, 2.2, '#333333'), (858.5, 2.2, 'black')]:
    page.plot([x, x], [157, Y_BASE], color=c, lw=lw, solid_capstyle='butt')
page.plot([13, W], [157.5, 157.5], color='black', lw=3.2)
page.plot([13, W], [198, 198], color='black', lw=2.6)
page.plot([13, W], [Y_BASE, Y_BASE], color='black', lw=2.4)

# ---- title
for i, line in enumerate(WELL):
    page.text(577, 25 + 26.5 * i, line, ha='center', va='center', size=18)

# ---- header boxes
for x0, x1 in [(465, 554), (597, 687)]:
    page.plot([x0, x1, x1, x0, x0], [158, 158, 117.5, 117.5, 158], color='black', lw=2.2)
page.fill_between([467, 552], 139, 157, color='#111111', lw=0)
page.text(510, 129, 'COAL', ha='center', va='center', size=9.5)
page.text(642, 129, 'ILM [OHMM]', ha='center', va='center', size=9.5)
page.plot([598, 686], [140, 140], color='#1E8C1E', lw=1.8, ls=(0, (12, 2)))
page.text(599, 151, '0', ha='left', va='center', size=9)
page.text(685, 151, '100', ha='right', va='center', size=9)

headers = [('GR', 465, 554, '0', '200', dict(color='black')),
           ('ILD [OHMM]', 597, 687, '0', '100', dict(color='black')),
           ('NPHI [V/V]', 687, 776, '0.6', '0', dict(color='#0000FF', ls=(0, (8, 3)))),
           ('RHOB [G/C3]', 776, 860, '1', '3', dict(color='black'))]
for label, x0, x1, lo, hi, style in headers:
    page.text((x0 + x1) / 2, 171, label, ha='center', va='center', size=9.5)
    page.plot([x0 + 2, x1 - 2], [181, 181], lw=1.6, **style)
    page.text(x0 + 2, 191, lo, ha='left', va='center', size=9)
    page.text(x1 - 2, 191, hi, ha='right', va='center', size=9)

fig.savefig('out.png', dpi=100)
